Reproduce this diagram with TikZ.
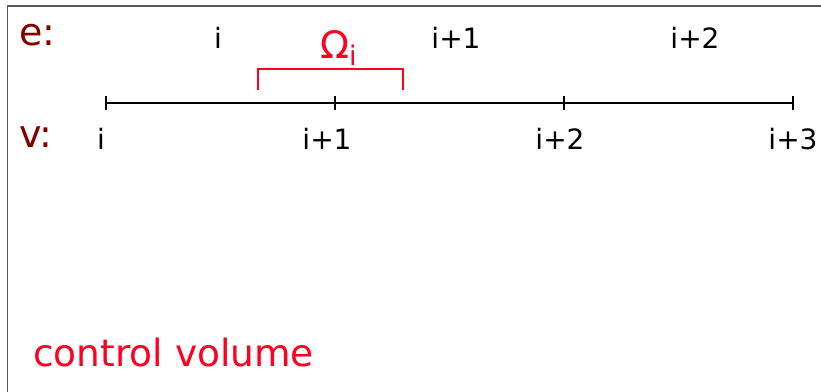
\documentclass[tikz,border=0pt]{standalone}
\usepackage{fontspec}
\setmainfont{DejaVu Sans}
\definecolor{darkred}{RGB}{128,0,0}
\definecolor{bred}{RGB}{255,0,32}
\begin{document}
\begin{tikzpicture}[x=1pt,y=-1pt,
  lbl/.style={inner sep=0pt,anchor=base,font=\fontsize{28}{30}\selectfont},
  rowlbl/.style={inner sep=0pt,anchor=base west,text=darkred,font=\fontsize{38}{40}\selectfont},
  axis/.style={line width=1.1pt,black},
  bracketline/.style={line width=1.2pt,bred}]
\useasboundingbox (0,0) rectangle (821,391);
\draw[line width=1.5pt,black!65] (7.5,400) -- (7.5,6) -- (830,6);
% row labels
\node[rowlbl] (e) at (19,45) {e:};
\node[rowlbl] (v) at (19,147) {v:};
% axis
\coordinate (v0) at (106,103);
\coordinate (v1) at (335,103);
\coordinate (v2) at (564,103);
\coordinate (v3) at (793,103);
\draw[axis] (v0) -- (v3);
\foreach \p in {v0,v1,v2,v3} \draw[axis] ([yshift=-7pt]\p) -- ([yshift=7pt]\p);
% vertex labels
\node[lbl] (l0) at (101,149) {i};
\node[lbl] (l1) at (327,149) {i+1};
\node[lbl] (l2) at (560,149) {i+2};
\node[lbl] (l3) at (793,149) {i+3};
% edge labels
\node[lbl] (e0) at (218,48) {i};
\node[lbl] (e1) at (456,48) {i+1};
\node[lbl] (e2) at (695,48) {i+2};
% control volume bracket
\coordinate (b0) at (258,90);
\coordinate (b1) at (403,90);
\draw[bracketline] (b0) -- (258,69) -- (403,69) -- (b1);
\node[inner sep=0pt,anchor=base west,text=bred] (om) at (320,58) {\fontsize{38}{40}\selectfont Ω\raisebox{-7pt}{\fontsize{27}{29}\selectfont i}};
\node[inner sep=0pt,anchor=base west,text=bred,font=\fontsize{37.5}{40}\selectfont] (cv) at (33,366) {control volume};
\end{tikzpicture}
\end{document}
